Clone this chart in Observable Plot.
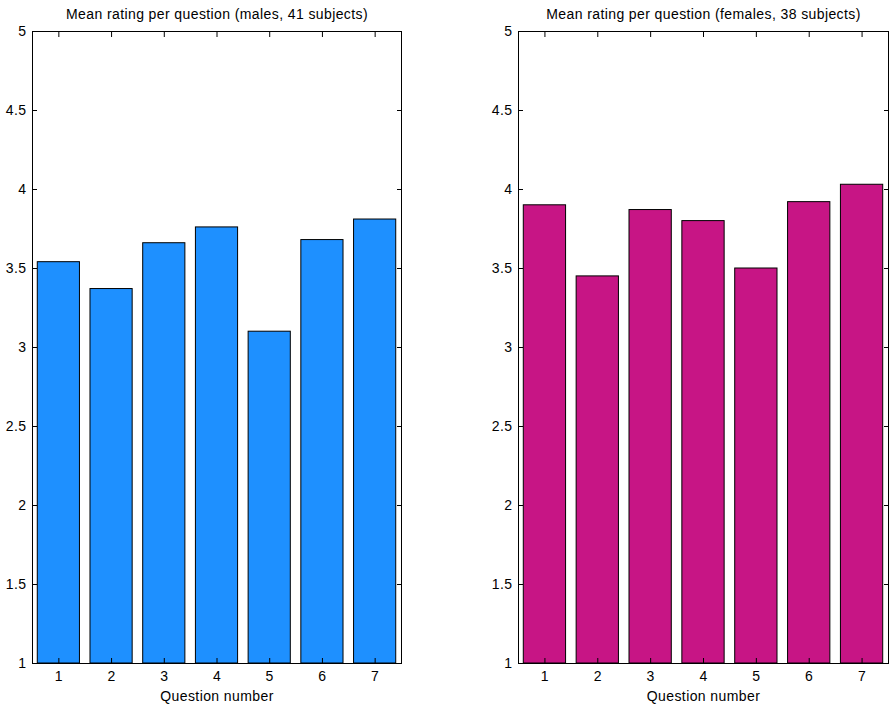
<!DOCTYPE html>
<html><head><meta charset="utf-8">
<script src="https://cdn.jsdelivr.net/npm/d3@7"></script>
<script src="https://cdn.jsdelivr.net/npm/@observablehq/plot@0.6"></script>
<style>
html,body{margin:0;padding:0;background:#fff;overflow:hidden;}
#row{display:flex;width:891px;height:709px;}
#row svg{display:block;flex:none;}
</style></head><body><div id="row"></div>
<script>
const questions = [1, 2, 3, 4, 5, 6, 7];
const maleMeans = [3.54, 3.37, 3.66, 3.76, 3.10, 3.68, 3.81];
const femaleMeans = [3.90, 3.45, 3.87, 3.80, 3.50, 3.92, 4.03];
const yTicks = [1, 1.5, 2, 2.5, 3, 3.5, 4, 4.5, 5];
const titles = ["Mean rating per question (males, 41 subjects)", "Mean rating per question (females, 38 subjects)"];
const xLabel = "Question number";
const colors = ["#1E90FF", "#C71585"];

function panel(values, title, color, width, ml, mr) {
  const data = questions.map((q, i) => ({q, v: values[i]}));
  return Plot.plot({
    width, height: 709, marginLeft: ml, marginRight: mr, marginTop: 31, marginBottom: 46,
    style: {fontFamily: "'Liberation Sans', Arial, sans-serif", fontSize: "14px", color: "#000", background: "#fff", letterSpacing: "0.4px"},
    x: {type: "band", domain: questions, paddingInner: 0.2, paddingOuter: 0.1, align: 0.5, round: false},
    y: {domain: [1, 5]},
    marks: [
      Plot.barY(data, {x: "q", y1: 1, y2: "v", fill: color, stroke: "#000", strokeWidth: 1}),
      Plot.frame({stroke: "#000"}),
      Plot.axisX({anchor: "bottom", tickSize: 0, tickPadding: 8, label: null}),
      Plot.axisX({anchor: "bottom", tickSize: 5, dy: -5, text: null, label: null}),
      Plot.axisX({anchor: "top", tickSize: 5, dy: 5, text: null, label: null}),
      Plot.axisY({anchor: "left", ticks: yTicks, tickFormat: d => String(d), tickSize: 0, tickPadding: 6, label: null}),
      Plot.axisY({anchor: "left", ticks: yTicks, tickSize: 5, dx: 5, text: null, label: null}),
      Plot.axisY({anchor: "right", ticks: yTicks, tickSize: 5, dx: -5, text: null, label: null}),
      Plot.text([title], {frameAnchor: "top", dy: -17, text: d => d, lineAnchor: "middle"}),
      Plot.text([xLabel], {frameAnchor: "bottom", dy: 33, text: d => d, lineAnchor: "middle"})
    ]
  });
}
const row = document.getElementById("row");
row.appendChild(panel(maleMeans, titles[0], colors[0], 445, 32, 44));
row.appendChild(panel(femaleMeans, titles[1], colors[1], 446, 73, 3));
</script></body></html>
